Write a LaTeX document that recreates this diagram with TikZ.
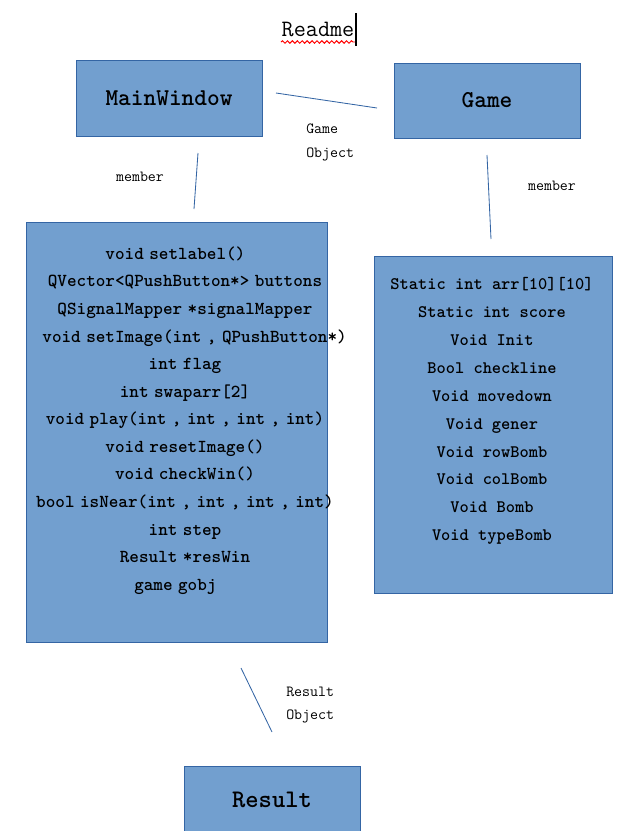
\documentclass[tikz,border=0pt]{standalone}
\usetikzlibrary{decorations.pathmorphing}
\definecolor{boxfill}{HTML}{729FCF}
\definecolor{boxline}{HTML}{3465A4}
\newcommand\narrowspace{\spaceskip=0.3em\relax}

\begin{document}
\begin{tikzpicture}[x=0.025cm, y=-0.025cm,
	classbox/.style={draw=boxline, fill=boxfill, line width=0.6pt, font=\fontsize{17.2}{20}\selectfont\ttfamily\bfseries},
	listbox/.style={draw=boxline, fill=boxfill, line width=0.6pt},
	memberlist/.style={align=center, inner sep=0pt, font=\fontsize{13}{19.6}\selectfont\ttfamily\bfseries},
	tag/.style={align=left, inner sep=0pt, font=\fontsize{11}{17}\selectfont\ttfamily},
	link/.style={draw=boxline, line width=0.6pt}]
	\useasboundingbox (0,0) rectangle (629,831);
	% title
	\node[inner sep=0pt, font=\fontsize{16.7}{20}\selectfont\ttfamily] (readme) at (318,29) {Readme};
	\draw[red, line width=0.7pt, decorate, decoration={snake, amplitude=0.9pt, segment length=3.5pt}] (281,42) -- (355,42);
	\draw[line width=1.2pt] (356,13) -- (356,46);
	% class boxes
	\node[classbox, minimum width=4.65cm, minimum height=1.9cm] (mainwin) at (169,98) {MainWindow};
	\node[classbox, minimum width=4.65cm, minimum height=1.875cm] (game) at (487,100.5) {Game};
	\node[classbox, minimum width=4.4cm, minimum height=1.7cm, font=\fontsize{18}{20}\selectfont\ttfamily\bfseries] (result) at (272,800) {Result};
	% member boxes
	\node[listbox, minimum width=7.525cm, minimum height=10.5cm] (mwbox) at (176.5,432) {};
	\node[memberlist, font={\fontsize{13}{19.6}\selectfont\ttfamily\bfseries\narrowspace}] (mwlist) at (185,420.5) {void setlabel()\hphantom{xx}\\
		QVector<QPushButton*> buttons\\
		QSignalMapper *signalMapper\\
		\hphantom{xx}void setImage(int , QPushButton*)\\
		int flag\\
		int swaparr[2]\\
		void play(int , int , int , int)\\
		void resetImage()\\
		void checkWin()\\
		bool isNear(int , int , int , int)\\
		int step\\
		Result *resWin\\
		game gobj\hphantom{xx}};
	\node[listbox, minimum width=5.95cm, minimum height=8.425cm] (gmbox) at (493,424.5) {};
	\node[memberlist, font=\fontsize{12.5}{19.85}\selectfont\ttfamily\bfseries] (gmlist) at (492,411) {Static int arr[10][10]\\
		Static int score\\
		Void Init\\
		Bool checkline\\
		Void movedown\\
		Void gener\\
		Void rowBomb\\
		Void colBomb\\
		Void Bomb\\
		Void typeBomb};
	% links
	\coordinate (gameA) at (276,93);
	\coordinate (gameB) at (377,108);
	\coordinate (mwmemA) at (198,153);
	\coordinate (mwmemB) at (194,209);
	\coordinate (gmemA) at (487,155);
	\coordinate (gmemB) at (491,239);
	\coordinate (resA) at (241,668);
	\coordinate (resB) at (272,732);
	\draw[link] (gameA) -- (gameB);
	\draw[link] (mwmemA) -- (mwmemB);
	\draw[link] (gmemA) -- (gmemB);
	\draw[link] (resA) -- (resB);
	% labels
	\node[tag, anchor=west] (gameobj) at (306,142) {Game\\Object};
	\node[tag] (mwmember) at (140,177) {member};
	\node[tag] (gmember) at (552,186) {member};
	\node[tag, anchor=west] (resobj) at (286,705) {Result\\Object};
\end{tikzpicture}
\end{document}
